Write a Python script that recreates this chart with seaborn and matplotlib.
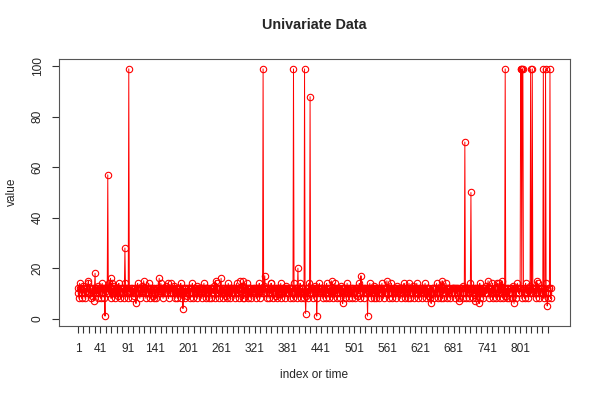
import pandas as pd
import seaborn as sns
import matplotlib.pyplot as plt

# values, one point per time index
values = [
    12,10,8,14,12,10,12,8,10,13,12,12,10,8,12,11,10,12,14,9,
    10,12,12,8,10,12,9,12,10,14,12,8,10,12,12,10,13,8,12,10,
    12,8,10,12,14,10,12,12,8,10,12,11,10,12,8,12,10,14,12,10,
    8,12,10,12,10,13,12,8,12,10,12,10,9,12,14,10,12,8,10,12,
    12,10,12,8,12,10,14,12,10,12,8,10,12,12,10,11,12,8,12,10,
    10,12,9,12,10,8,12,12,14,10,12,10,8,12,10,12,13,10,12,8,
    12,12,10,8,10,12,12,10,14,12,8,12,10,12,10,9,12,12,8,10,
    10,8,12,12,10,12,11,8,12,10,14,12,10,12,8,10,12,10,12,13,
    12,10,12,14,8,12,10,12,10,8,12,12,10,13,12,10,8,12,10,12,
    8,12,10,12,12,10,14,8,10,12,12,10,12,8,12,10,12,9,10,12,
    12,10,8,12,10,12,12,14,10,8,12,10,12,12,10,13,8,12,10,12,
    10,12,12,10,8,12,10,12,14,10,12,8,12,10,12,10,12,8,11,12,
    12,8,10,12,12,10,13,12,8,10,12,14,10,12,10,8,12,12,10,12,
    10,12,8,12,10,12,10,9,12,12,8,10,14,12,10,12,8,12,10,12,
    12,10,12,12,8,10,12,14,10,12,10,8,12,12,10,12,13,10,8,12,
    8,12,10,12,10,14,12,8,12,10,12,12,10,8,12,10,12,11,12,10,
    12,10,12,8,12,10,12,10,14,8,12,12,10,12,10,8,12,13,10,12,
    10,12,8,12,12,10,8,12,10,12,14,10,12,8,10,12,12,10,12,9,
    12,8,12,10,12,10,12,14,8,10,12,10,12,12,8,10,13,12,10,12,
    10,12,10,12,8,12,12,10,12,8,10,14,12,10,12,12,8,10,12,10,
    12,10,14,8,12,10,12,12,10,8,12,10,12,9,10,12,8,12,14,10,
    8,12,10,12,12,10,8,12,13,10,12,12,10,8,12,10,12,14,10,12,
    12,10,12,8,10,12,12,10,8,12,14,10,12,10,12,8,12,10,11,12,
    10,12,8,12,10,14,12,10,12,8,12,10,12,12,10,8,13,12,10,12,
    12,12,10,8,12,10,12,14,10,12,8,10,12,10,12,12,8,10,12,10,
    10,8,12,12,10,12,9,12,10,14,12,8,10,12,12,10,12,8,12,10,
    12,10,12,10,8,12,12,10,14,12,10,8,12,12,10,13,8,12,10,12,
    8,12,10,12,12,8,10,12,10,12,14,10,12,8,12,10,12,10,12,9,
    12,10,8,12,10,12,12,14,10,8,12,10,12,12,10,8,12,13,10,12,
    10,12,12,10,8,12,10,12,12,10,14,8,12,10,12,12,10,8,12,10,
    12,8,10,12,12,10,13,12,8,10,12,12,10,14,12,10,8,12,10,12,
    10,12,8,12,10,12,10,12,14,12,8,10,12,10,12,9,12,8,10,12,
    12,10,12,12,8,10,12,10,12,14,10,8,12,12,10,12,8,13,12,10,
    8,12,10,12,10,12,14,8,12,10,12,12,10,8,12,10,12,10,12,12,
    12,10,12,8,12,10,12,12,10,14,8,12,10,12,10,12,13,8,10,12,
    10,12,8,12,12,10,12,10,8,12,14,10,12,12,10,8,12,10,12,11,
    12,8,12,10,12,12,10,14,8,10,12,10,12,8,12,12,10,12,10,13,
    10,12,10,12,8,12,12,10,12,10,14,8,12,10,12,12,8,10,12,10,
    12,10,14,8,12,10,12,12,10,8,12,10,12,12,9,10,12,8,12,10,
    8,12,10,12,12,10,8,12,13,10,12,12,10,8,12,14,12,10,10,12,
    12,10,12,8,10,12,12,10,8,12,14,10,12,10,12,8,12,10,13,12,
    10,12,8,12,10,12,12,10,12,8,12,10,14,12,10,8,12,12,10,12,
    12,10,12,8,12,10,12,14,10,12,8,10,12,12,10,8,12,
]

# the spikes and stray points (1-based index -> value)
peak_index = [20, 30, 32, 50, 55, 60, 62, 86, 93, 106, 120, 148, 170, 191,
              250, 260, 295, 300, 336, 339, 350, 391, 399, 411, 413, 421,
              433, 460, 480, 513, 525, 560, 600, 640, 660, 690, 701, 712,
              720, 727, 743, 760, 768, 774, 790, 802, 803, 805, 806, 820,
              823, 831, 843, 847, 850, 855]
peak_value = [15, 7, 18, 1, 57, 16, 14, 28, 99, 6, 15, 16, 14, 4,
              15, 16, 15, 15, 99, 17, 14, 99, 20, 99, 2, 88,
              1, 15, 6, 17, 1, 15, 14, 6, 15, 7, 70, 50,
              7, 6, 15, 14, 15, 99, 6, 99, 99, 99, 99, 99,
              99, 15, 99, 99, 5, 99]

for i, v in zip(peak_index, peak_value):
    values[i - 1] = v

n = len(values)
df = pd.DataFrame({"index": range(1, n + 1), "value": values})

sns.set_style("ticks")
plt.rcParams["font.family"] = ["Liberation Sans", "DejaVu Sans"]

fig = plt.figure(figsize=(6, 4), dpi=100)
ax = fig.add_axes([59 / 600, 74 / 400, 511 / 600, 267 / 400])

sns.lineplot(data=df, x="index", y="value", ax=ax, color="red",
             linewidth=0.7, marker="o", markersize=4.6,
             markerfacecolor="none", markeredgecolor="red",
             markeredgewidth=0.8, errorbar=None)

pad_x = 0.04 * (n - 1)
ax.set_xlim(1 - pad_x, n + pad_x)
ax.set_ylim(1 - 0.04 * 98, 99 + 0.04 * 98)

# x ticks every 10, labels only where R had room for them
xticks = list(range(1, n, 10))
shown = [1, 41, 91, 141, 201, 261, 321, 381, 441, 501, 561, 621, 681, 741, 801]
ax.set_xticks(xticks)
ax.set_xticklabels([str(t) if t in shown else "" for t in xticks], fontsize=8.6)

yticks = [0, 20, 40, 60, 80, 100]
ax.set_yticks(yticks)
ax.set_yticklabels([str(t) for t in yticks], fontsize=8.6, rotation=90, va="center")

ax.tick_params(axis="both", direction="out", length=5, width=0.8, color="#333333")
ax.tick_params(axis="x", pad=7)
ax.tick_params(axis="y", pad=6)
for s in ax.spines.values():
    s.set_visible(True)
    s.set_linewidth(0.8)
    s.set_color("#555555")

ax.set_xlabel("")
ax.set_ylabel("")
fig.text(314.5 / 600, 1 - 375 / 400, "index or time", ha="center", va="center", fontsize=8.6)
fig.text(12 / 600, 1 - 192 / 400, "value", ha="center", va="center", rotation=90, fontsize=8.6)
fig.text(314.5 / 600, 1 - 25 / 400, "Univariate Data", ha="center", va="center",
         fontsize=10.4, fontweight="bold")

plt.savefig("out.png", dpi=100)
